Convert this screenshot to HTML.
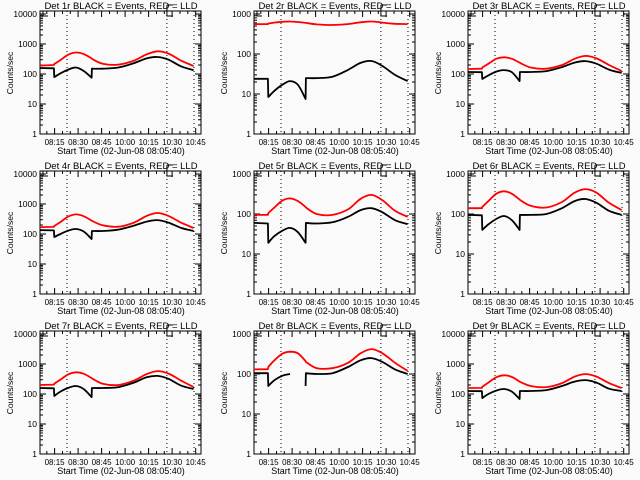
<!DOCTYPE html>
<html><head><meta charset="utf-8"><style>
html,body{margin:0;padding:0;background:#fafafa;}
svg{display:block;font-family:"Liberation Sans",sans-serif;}
</style></head><body>
<svg id="chart" width="640" height="480" viewBox="0 0 640 480"></svg>
<script>
// ---- data ----
const times = [0, 8.9, 9.1, 13, 18, 23, 28, 32.9, 33.1, 40, 50, 60, 68, 75, 82, 90, 98];
const tickTimes = [9.33, 24.33, 39.33, 54.33, 69.33, 84.33, 99.33];
const tickLabels = ["08:15","08:30","08:45","10:00","10:15","10:30","10:45"];
const markerTimes = [17.2, 81, 98.3];
const detNames = ["Det 1r","Det 2r","Det 3r","Det 4r","Det 5r","Det 6r","Det 7r","Det 8r","Det 9r"];
const yMaxExp = [4.1, 3.075, 4.1, 4.1, 3.075, 3.075, 4.1, 3.075, 4.1];
const black1 = [158,155,79,105,140,165,125,75,150,150,165,230,330,370,300,180,135];
const red1 = [190,200,215,290,440,520,460,330,320,220,205,280,450,570,480,280,185];
const black2 = [24,24,8.4,12,17,21,17,7.5,25,25,27,40,60,67,50,30,21];
const red2 = [560,560,580,610,640,650,630,600,600,550,530,560,620,650,610,570,560];
const black3 = [117,115,68,90,120,135,115,58,117,117,125,170,240,270,220,140,108];
const red3 = [147,150,165,220,320,360,320,240,235,165,150,200,320,400,330,200,126];
const black4 = [135,132,79,100,130,147,120,68,126,126,140,190,260,290,240,160,126];
const red4 = [170,172,185,250,380,450,390,280,275,195,175,240,400,500,400,240,158];
const black5 = [60,58,19,28,38,45,35,19,60,58,62,85,125,140,110,70,56];
const red5 = [95,95,105,145,215,245,210,150,145,100,95,130,240,300,220,120,85];
const black6 = [95,93,40,55,75,89,70,40,95,95,100,140,210,237,190,120,95];
const red6 = [140,140,150,210,320,370,320,230,225,160,145,200,340,420,340,190,126];
const black7 = [158,155,86,120,160,185,145,79,158,158,170,240,360,400,320,190,147];
const red7 = [200,205,220,300,450,530,470,340,330,220,200,280,460,580,480,280,170];
const black8 = [105,105,50,70,90,100,null,50,105,100,105,150,220,250,200,130,100];
const red8 = [130,132,150,220,320,360,330,210,200,140,140,190,330,420,330,190,120];
const black9 = [126,124,73,100,130,147,120,68,126,126,135,185,260,290,240,150,126];
const red9 = [158,160,175,240,360,420,370,260,255,185,170,230,380,460,380,230,158];
const blacks = [black1,black2,black3,black4,black5,black6,black7,black8,black9];
const reds = [red1,red2,red3,red4,red5,red6,red7,red8,red9];

const NS = "http://www.w3.org/2000/svg";
const svg = document.getElementById("chart");
function mk(tag, attrs, parent){const e=document.createElementNS(NS,tag);for(const k in attrs)e.setAttribute(k,attrs[k]);parent.appendChild(e);return e;}

const BX0=40, BX1=201, BY0=11, BY1=134, TMAX=(BX1-BX0)/1.567;

function smoothRun(pts){
  if(pts.length<3) return pts.map((p,i)=>(i?"L":"")+p[0].toFixed(1)+","+p[1].toFixed(1)).join("");
  let s="";
  for(let i=0;i<pts.length-1;i++){
    const p0=pts[Math.max(0,i-1)],p1=pts[i],p2=pts[i+1],p3=pts[Math.min(pts.length-1,i+2)];
    const c1x=p1[0]+(p2[0]-p0[0])/6,c1y=p1[1]+(p2[1]-p0[1])/6;
    const c2x=p2[0]-(p3[0]-p1[0])/6,c2y=p2[1]-(p3[1]-p1[1])/6;
    s+=`C${c1x.toFixed(1)},${c1y.toFixed(1)} ${c2x.toFixed(1)},${c2y.toFixed(1)} ${p2[0].toFixed(1)},${p2[1].toFixed(1)}`;
  }
  return s;
}

for(let p=0;p<9;p++){
  const ox=(p%3)*214, oy=Math.floor(p/3)*160;
  const g=mk("g",{transform:`translate(${ox},${oy})`},svg);
  
  
  const ymax=yMaxExp[p];
  const xs=t=>BX0+(t/TMAX)*(BX1-BX0);
  const ys=v=>BY1-(Math.log10(v)/ymax)*(BY1-BY0);

  const title=mk("text",{x:121,y:9,"font-size":"9.5","text-anchor":"middle",fill:"#000"},g);
  title.textContent=detNames[p]+" BLACK = Events, RED = LLD";
  
  

  const box=mk("rect",{x:BX0,y:BY0,width:BX1-BX0,height:BY1-BY0,fill:"none",stroke:"#000","stroke-width":1},g);
  
  

  const nDec=Math.floor(ymax);
  let d="";
  for(let e=0;e<=nDec;e++){
    for(let m=1;m<10;m++){
      const v=m*Math.pow(10,e); if(Math.log10(v)>ymax)break;
      const y=ys(v).toFixed(1); const L=m===1?6:3;
      d+=`M${BX0},${y}h${L}M${BX1},${y}h${-L}`;
    }
    const lab=mk("text",{x:BX0-3,y:ys(Math.pow(10,e))+3,"font-size":"8.5","text-anchor":"end"},g);
    lab.textContent=String(Math.pow(10,e));
    
    
  }
  for(let t=4.33;t<TMAX;t+=5){
    const x=xs(t).toFixed(1);
    const major=tickTimes.some(tt=>Math.abs(tt-t)<0.1);
    const L=major?6:3;
    d+=`M${x},${BY1}v${-L}M${x},${BY0}v${L}`;
  }
  const ticks=mk("path",{d:d,stroke:"#000","stroke-width":1,fill:"none"},g);
  
  
  tickTimes.forEach((t,i)=>{
    const tl=mk("text",{x:xs(t),y:145,"font-size":"8","text-anchor":"middle"},g);
    tl.textContent=tickLabels[i];
    
    
  });
  const xt=mk("text",{x:121,y:154,"font-size":"9","text-anchor":"middle"},g);
  xt.textContent="Start Time (02-Jun-08 08:05:40)";
  
  
  const yt=mk("text",{x:0,y:0,"font-size":"8.5","text-anchor":"middle",transform:"translate(13,73) rotate(-90)"},g);
  yt.textContent="Counts/sec";
  
  

  markerTimes.forEach(t=>{
    const x=xs(t).toFixed(1);
    const ln=mk("line",{x1:x,x2:x,y1:BY0,y2:BY1,stroke:"#000","stroke-width":1,"stroke-dasharray":"1,3"},g);
    
    
  });
  const br=mk("path",{d:`M43,${BY0}v5h5M${xs(81)},5v11h6M${xs(81)},5h6`,stroke:"#000",fill:"none","stroke-width":1},g);
  
  

  function pathFor(arr){
    const runs=[];let cur=[];
    arr.forEach((v,i)=>{
      if(v==null){if(cur.length)runs.push({pts:cur,join:false});cur=[];return;}
      const pt=[xs(times[i]),ys(v)];
      if(cur.length && times[i]-times[i-1]<0.5){runs.push({pts:cur,join:true});cur=[];}
      cur.push(pt);
    });
    if(cur.length)runs.push({pts:cur,join:false});
    let s="",prevJoin=false;
    runs.forEach(r=>{
      const f=r.pts[0];
      s+=(prevJoin?"L":"M")+f[0].toFixed(1)+","+f[1].toFixed(1);
      s+=smoothRun(r.pts).replace(/^[0-9.,\-]+/,"");
      prevJoin=r.join;
    });
    return s;
  }
  const rl=mk("path",{d:pathFor(reds[p]),stroke:"#ff0000","stroke-width":1.8,fill:"none","stroke-linejoin":"round"},g);
  
  
  const bl=mk("path",{d:pathFor(blacks[p]),stroke:"#000","stroke-width":1.8,fill:"none","stroke-linejoin":"round"},g);
  
  
}
</script>
</body></html>
